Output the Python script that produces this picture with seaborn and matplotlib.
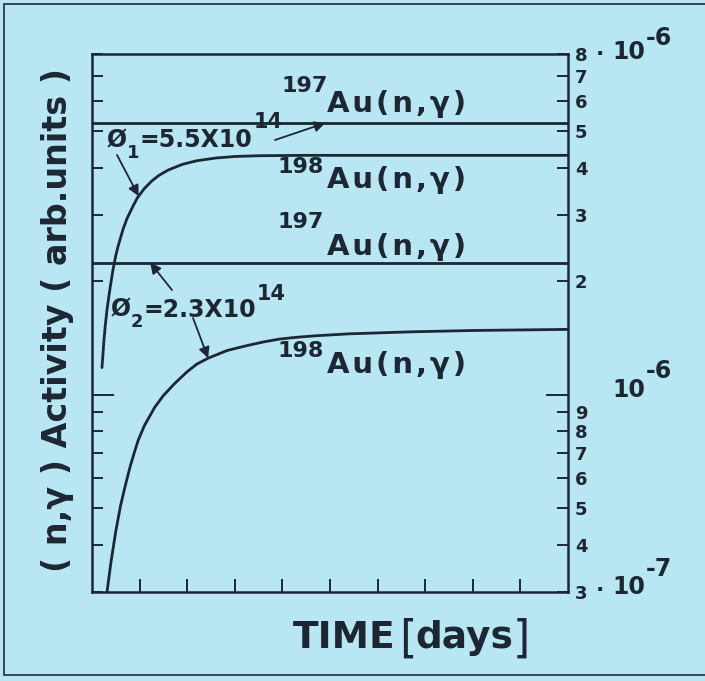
import matplotlib.pyplot as plt
import numpy as np
import pandas as pd
import seaborn as sns

# values (time in days, activity in arb. units)
curve1_t = [0.21, 0.25, 0.28, 0.315, 0.38, 0.44, 0.50, 0.55, 0.65, 0.735, 0.85, 0.95, 1.10, 1.25, 1.40,
            1.60, 1.90, 2.20, 2.60, 3.0, 3.5, 4.5, 6.0, 8.0, 10.0]
curve1_v = [1.18e-6, 1.39e-6, 1.53e-6, 1.68e-6, 1.92e-6, 2.14e-6, 2.34e-6, 2.48e-6, 2.74e-6, 2.93e-6,
            3.14e-6, 3.32e-6, 3.52e-6, 3.68e-6, 3.81e-6, 3.94e-6, 4.08e-6, 4.17e-6, 4.24e-6, 4.28e-6,
            4.30e-6, 4.31e-6, 4.31e-6, 4.31e-6, 4.31e-6]

curve2_t = [0.315, 0.40, 0.50, 0.60, 0.69, 0.80, 0.90, 0.97, 1.10, 1.32, 1.50, 1.74, 2.0, 2.2, 2.44, 2.84,
            3.26, 3.6, 3.95, 4.3, 4.7, 5.4, 6.7, 8.0, 10.0]
curve2_v = [3.00e-7, 3.61e-7, 4.35e-7, 5.08e-7, 5.68e-7, 6.44e-7, 7.10e-7, 7.57e-7, 8.28e-7, 9.27e-7,
            9.95e-7, 1.072e-6, 1.151e-6, 1.205e-6, 1.250e-6, 1.310e-6, 1.350e-6, 1.380e-6, 1.405e-6,
            1.420e-6, 1.433e-6, 1.450e-6, 1.468e-6, 1.480e-6, 1.49e-6]

line_t = [0, 10]
line1_level = 5.25e-6
line2_level = 2.24e-6

x_ticks = [1, 2, 3, 4, 5, 6, 7, 8, 9]
y_major = [1e-6]
y_minor = [3e-7, 4e-7, 5e-7, 6e-7, 7e-7, 8e-7, 9e-7, 2e-6, 3e-6, 4e-6, 5e-6, 6e-6, 7e-6, 8e-6]
y_minor_labels = ["3", "4", "5", "6", "7", "8", "9", "2", "3", "4", "5", "6", "7", "8"]

BG = "#b8e6f2"
INK = "#1d2733"
HS = "\u200a"  # hair space, the original lettering is spaced out

sns.set_theme(style="ticks")
plt.rcParams["font.family"] = ["DejaVu Sans"]
plt.rcParams["font.weight"] = "bold"

W, H = 705, 681
fig = plt.figure(figsize=(W / 100, H / 100), dpi=100, facecolor=BG)
ax = fig.add_axes([92 / W, 1 - 592 / H, 476 / W, 538 / H], facecolor=BG)

df = pd.concat([
    pd.DataFrame({"t": curve1_t, "v": curve1_v, "series": "198Au phi1"}),
    pd.DataFrame({"t": curve2_t, "v": curve2_v, "series": "198Au phi2"}),
    pd.DataFrame({"t": line_t, "v": [line1_level] * 2, "series": "197Au phi1"}),
    pd.DataFrame({"t": line_t, "v": [line2_level] * 2, "series": "197Au phi2"}),
])
sns.lineplot(data=df, x="t", y="v", units="series", estimator=None, sort=False,
             color=INK, linewidth=2.0, legend=False, ax=ax,
             solid_joinstyle="round", solid_capstyle="round")

ax.set_yscale("log")
ax.set_xlim(0, 10)
ax.set_ylim(3e-7, 8e-6)
ax.set_xlabel("")
ax.set_ylabel("")

ax.set_xticks(x_ticks)
ax.tick_params(axis="x", direction="in", length=9.5, width=1.4, color=INK, labelbottom=False)
ax.set_yticks(y_major, labels=[""])
ax.set_yticks(y_minor, labels=y_minor_labels, minor=True)
ax.tick_params(axis="y", which="both", direction="in", left=True, right=True,
               labelleft=False, labelright=True, width=1.4, colors=INK)
ax.tick_params(axis="y", which="major", length=16)
ax.tick_params(axis="y", which="minor", length=8, labelsize=13, pad=5)
for s in ax.spines.values():
    s.set_linewidth(1.8)
    s.set_color(INK)


def put(x, y, s, size, ha="left", va="baseline", **kw):
    # x, y in pixels measured from the top-left corner
    fig.text(x / W, 1 - y / H, s, fontsize=size, color=INK, ha=ha, va=va, **kw)


au = HS.join("Au(n,γ)")
for iso, x0, y_sup, y_main in [("197", 282, 92, 112), ("198", 278, 173, 188),
                               ("197", 278, 228, 255), ("198", 277, 357, 373)]:
    put(x0, y_sup, iso, 16)
    put(327, y_main, au, 21)

# flux labels
put(107, 147, "Ø", 17)
put(127, 158, "1", 13)
put(139, 147, "=5.5X10", 17)
put(254, 128, "14", 15)

put(111, 316, "Ø", 17)
put(131, 327, "2", 13)
put(144, 317, "=2.3X10", 17)
put(257, 300, "14", 15)

arrow = dict(arrowstyle="-|>", color=INK, lw=1.3, mutation_scale=16, shrinkA=0, shrinkB=0)
for tip, tail in [((0.98, 3.36e-6), (117, 155)), ((4.9, line1_level), (275, 140)),
                  ((1.22, line2_level), (172, 290)), ((2.44, 1.25e-6), (193, 318))]:
    ax.annotate("", xy=tip, xytext=(tail[0], H - tail[1]), textcoords="figure pixels",
                arrowprops=arrow)

# decade labels on the right
put(600, 54, "·", 16, ha="center", va="center")
put(612, 52, "10", 17, va="center")
put(646, 38, "-6", 17, va="center")

put(612, 390, "10", 17, va="center")
put(646, 371, "-6", 17, va="center")

put(600, 590, "·", 16, ha="center", va="center")
put(612, 587, "10", 17, va="center")
put(646, 569, "-7", 17, va="center")

# axis titles
put(57, 320, "( n,γ ) Activity ( arb.units )", 24, ha="center", va="center", rotation=90)
put(293, 648, "TIME", 27)
put(399, 652, "[", 32, fontweight="normal")
put(415, 648, "days", 27)
put(513, 652, "]", 32, fontweight="normal")

# frame of the scanned card
frame = dict(transform=fig.transFigure, color="#3a4550", lw=1.4)
fig.add_artist(plt.Line2D([4 / W, 4 / W], [1 - 675 / H, 1 - 4 / H], **frame))
fig.add_artist(plt.Line2D([4 / W, 1], [1 - 4 / H, 1 - 4 / H], **frame))
fig.add_artist(plt.Line2D([4 / W, 1], [1 - 675 / H, 1 - 675 / H], **frame))

fig.savefig("out.png", dpi=100, facecolor=BG)
